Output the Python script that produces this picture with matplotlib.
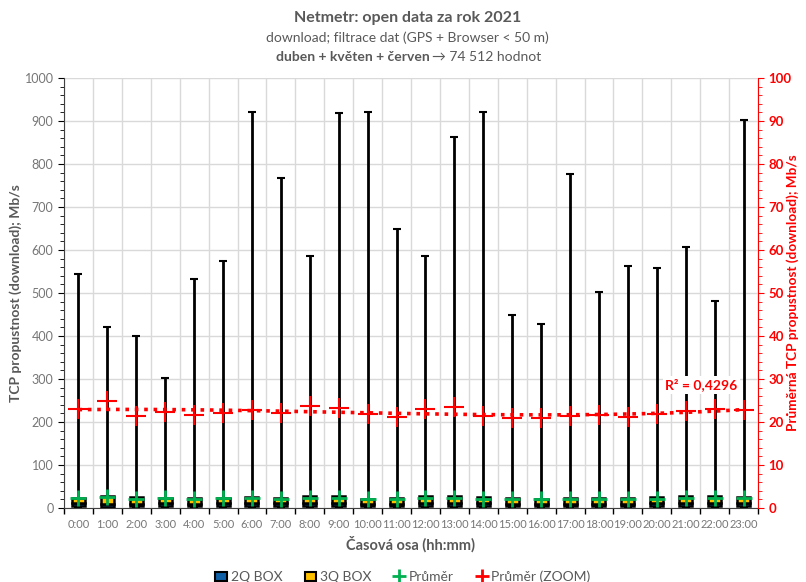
#!/usr/bin/env python3
"""
Netmetr 2021 - TCP download throughput by hour (box-like chart + mean on zoom axis)
"""

import numpy as np
import matplotlib
matplotlib.use('Agg')
import matplotlib.pyplot as plt
from matplotlib.patches import Patch
from matplotlib.lines import Line2D

plt.rcParams['font.family'] = ['Lato', 'DejaVu Sans']

# Data
hours = ['%d:00' % h for h in range(24)]
whisk_min = [0.1] * 24
whisk_max = [545, 420, 400, 303, 533, 575, 920, 768, 585, 918, 922, 648,
             585, 862, 920, 450, 428, 776, 502, 562, 557, 607, 481, 902]
q1 = [4.5, 2.5, 3.5, 4.0, 4.0, 4.5, 4.0, 4.0, 4.0, 3.5, 4.5, 4.0,
      4.0, 3.5, 4.0, 4.5, 4.5, 4.5, 4.5, 4.5, 3.5, 3.5, 3.5, 4.0]
median = [10.5, 9.5, 10.0, 10.5, 10.0, 10.5, 11.0, 10.5, 11.0, 11.5, 10.0, 10.0,
          11.0, 11.5, 10.5, 10.0, 10.0, 10.0, 10.0, 10.0, 10.5, 11.0, 11.0, 11.0]
q3 = [24, 27, 25, 24, 24, 23, 26, 24, 27, 28, 22, 23,
      27, 28, 25, 23, 22, 23, 23, 23, 25, 27, 27, 26]
mean = [23.0, 24.9, 21.5, 22.4, 21.6, 22.2, 22.9, 22.0, 23.7, 23.2, 21.9, 21.2,
        23.0, 23.4, 21.5, 21.0, 20.9, 21.4, 21.6, 21.2, 21.9, 22.6, 23.0, 22.9]
r2_text = 'R² = 0,4296'

# Colors
grey = '#595959'
c_blue = '#1060A8'
c_orange = '#FFC000'
c_green = '#00B050'
c_red = '#FF0000'
c_grid = '#D9D9D9'

x = np.arange(len(hours))
q1 = np.array(q1)
median = np.array(median)
q3 = np.array(q3)
mean = np.array(mean)

fig = plt.figure(figsize=(8.06, 5.82), dpi=100)
ax = fig.add_axes([64 / 806, 1 - 508 / 582, 694 / 806, 430 / 582])
ax2 = ax.twinx()

# left axis
ax.set_xlim(-0.5, 23.5)
ax.set_ylim(0, 1000)
ax.set_yticks(np.arange(0, 1001, 100))
ax.set_yticks(np.arange(0, 1001, 20), minor=True)
ax.set_xticks(np.arange(-0.5, 24, 1))
ax.set_xticklabels([])
ax.set_xticks(x, minor=True)
ax.set_xticklabels(hours, minor=True)
ax.tick_params(axis='x', which='major', length=4, color='black', width=1)
ax.tick_params(axis='x', which='minor', length=0, labelsize=8, labelcolor='#767676', pad=8)
ax.tick_params(axis='y', which='major', length=4, color='black', labelsize=9,
               labelcolor='#767676')
ax.tick_params(axis='y', which='minor', length=3, color='black')
ax.grid(True, which='major', color=c_grid, linewidth=1)
ax.set_axisbelow(True)
for s in ['top', 'right']:
    ax.spines[s].set_visible(False)
ax.spines['left'].set_color('#404040')
ax.spines['bottom'].set_color('#404040')

ax.set_ylabel('TCP propustnost (download); Mb/s', fontsize=10, fontweight='bold',
              color=grey)
ax.yaxis.set_label_coords(-42 / 694, 0.5)
ax.set_xlabel('Časová osa (hh:mm)', fontsize=10.5, fontweight='bold', color=grey, labelpad=4)

# whiskers
ax.errorbar(x, whisk_min, yerr=[np.zeros(24), np.array(whisk_max) - np.array(whisk_min)],
            fmt='none', ecolor='black', elinewidth=2.0, capsize=3, capthick=1.5, zorder=2)

# boxes
ax.bar(x, median - q1, bottom=q1, width=0.45, color=c_blue, edgecolor='black',
       linewidth=1.8, zorder=3)
ax.bar(x, q3 - median, bottom=median, width=0.45, color=c_orange, edgecolor='black',
       linewidth=1.8, zorder=3)

# mean (green)
ax.plot(x, mean, linestyle='none', marker='+', markersize=12, markeredgewidth=2,
        color=c_green, zorder=4)

# right axis (zoom)
ax2.set_ylim(0, 100)
ax2.set_yticks(np.arange(0, 101, 10))
ax2.set_yticks(np.arange(0, 101, 2), minor=True)
ax2.tick_params(axis='y', which='major', length=4, color=c_red, labelsize=9.5,
                labelcolor=c_red)
ax2.tick_params(axis='y', which='minor', length=3, color=c_red)
for lab in ax2.get_yticklabels():
    lab.set_fontweight('bold')
for s in ['top', 'left', 'bottom']:
    ax2.spines[s].set_visible(False)
ax2.spines['right'].set_color(c_red)
ax2.set_ylabel('Průměrná TCP propustnost (download); Mb/s', fontsize=9.8,
               fontweight='bold', color=c_red)
ax2.yaxis.set_label_coords((786 - 64) / 694, 0.5)

ax2.plot(x, mean, linestyle='none', marker='+', markersize=14, markeredgewidth=1.5,
         color=c_red, zorder=5)

# polynomial trendline
coef = np.polyfit(x, mean, 3)
xs = np.linspace(0, 23, 200)
ax2.plot(xs, np.polyval(coef, xs), linestyle=(0, (1, 1.6)), color=c_red, linewidth=2.6,
         zorder=4)
ax2.text(21.55, 28.6, r2_text, ha='center', va='center', fontsize=10,
         fontweight='bold', color=c_red,
         bbox=dict(facecolor='white', edgecolor='none', pad=1.5))

# titles
fig.text(0.506, 1 - 18 / 582, 'Netmetr: open data za rok 2021', ha='center', va='center',
         fontsize=11.5, fontweight='bold', color=grey)
fig.text(0.506, 1 - 38 / 582, 'download; filtrace dat (GPS + Browser < 50 m)',
         ha='center', va='center', fontsize=10, color=grey)
fig.text(430 / 806, 1 - 57 / 582, 'duben + květen + červen', ha='right', va='center',
         fontsize=10, fontweight='bold', color=grey)
fig.text(432 / 806, 1 - 57 / 582, '→ 74 512 hodnot', ha='left', va='center',
         fontsize=10, color=grey)

# legend
handles = [
    Patch(facecolor=c_blue, edgecolor='black', linewidth=1.5, label='2Q BOX'),
    Patch(facecolor=c_orange, edgecolor='black', linewidth=1.5, label='3Q BOX'),
    Line2D([], [], linestyle='none', marker='+', markersize=10, markeredgewidth=2,
           color=c_green, label='Průměr'),
    Line2D([], [], linestyle='none', marker='+', markersize=10, markeredgewidth=2,
           color=c_red, label='Průměr (ZOOM)'),
]
leg = fig.legend(handles=handles, loc='center', bbox_to_anchor=(0.5, 1 - 577 / 582),
                 ncol=4, frameon=False, fontsize=10, handlelength=0.8,
                 handletextpad=0.3, columnspacing=1.6)
for t in leg.get_texts():
    t.set_color(grey)

fig.savefig('out.png', dpi=100, facecolor='white')
print("Created out.png")
